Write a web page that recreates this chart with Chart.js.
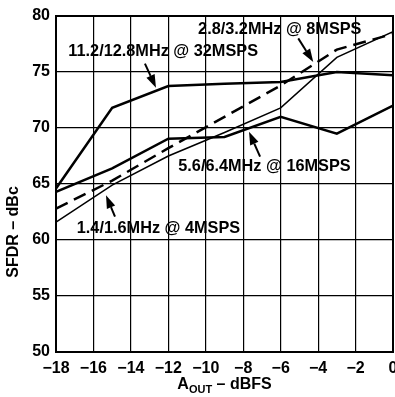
<!DOCTYPE html>
<html>
<head>
<meta charset="utf-8">
<script src="https://cdn.jsdelivr.net/npm/chart.js@4.4.0/dist/chart.umd.min.js"></script>
<style>
html,body{margin:0;padding:0;background:#fff;overflow:hidden;}
canvas{display:block;}
</style>
</head>
<body>
<canvas id="c" width="395" height="397"></canvas>
<script>
// ---- data ----
const aoutDbfs = [-18, -15, -12, -9, -6, -3, 0];
const sfdr32Msps = [64.6, 71.8, 73.75, 73.95, 74.1, 75.0, 74.7];   // 11.2/12.8MHz @ 32MSPS
const sfdr8Msps  = [62.8, 65.3, 68.2, 71.0, 73.8, 77.0, 78.4];     // 2.8/3.2MHz @ 8MSPS
const sfdr16Msps = [64.3, 66.4, 69.05, 69.2, 71.0, 69.5, 72.0];    // 5.6/6.4MHz @ 16MSPS
const sfdr4Msps  = [61.6, 64.9, 67.5, 69.6, 71.8, 76.3, 78.6];     // 1.4/1.6MHz @ 4MSPS
const seriesNames = ['11.2/12.8MHz @ 32MSPS', '2.8/3.2MHz @ 8MSPS', '5.6/6.4MHz @ 16MSPS', '1.4/1.6MHz @ 4MSPS'];
const xTicks = [-18, -16, -14, -12, -10, -8, -6, -4, -2, 0];
const yTicks = [50, 55, 60, 65, 70, 75, 80];

// label anchors (data units): [textX, textY, arrowFromX, arrowFromY, arrowToX, arrowToY]
const labelAnchors = [
  [-17.34, 76.8, -13.25, 75.75, -12.66, 73.6],
  [-10.41, 78.75, -5.06, 78.0, -4.26, 75.9],
  [-11.47, 66.55, -7.1, 67.44, -7.69, 69.67],
  [-16.89, 61.04, -14.85, 62.08, -15.33, 64.0]
];

const FONT = '"Liberation Sans", Arial, Helvetica, sans-serif';
const pts = arr => aoutDbfs.map((x, i) => ({x: x, y: arr[i]}));
const fmt = v => v < 0 ? '\u2212' + Math.abs(v) : String(v);

const annotPlugin = {
  id: 'annot',
  afterDatasetsDraw(chart) {
    const ctx = chart.ctx, xs = chart.scales.x, ys = chart.scales.y;
    const a = chart.chartArea;
    ctx.save();
    // frame
    ctx.strokeStyle = '#000';
    ctx.lineWidth = 2;
    ctx.strokeRect(a.left, a.top, a.right - a.left, a.bottom - a.top);
    // labels
    ctx.fillStyle = '#000';
    ctx.font = 'bold 16.3px ' + FONT;
    ctx.textAlign = 'left';
    ctx.textBaseline = 'middle';
    labelAnchors.forEach((an, i) => {
      ctx.fillText(seriesNames[i], xs.getPixelForValue(an[0]), ys.getPixelForValue(an[1]));
      const x1 = xs.getPixelForValue(an[2]), y1 = ys.getPixelForValue(an[3]);
      const x2 = xs.getPixelForValue(an[4]), y2 = ys.getPixelForValue(an[5]);
      const ang = Math.atan2(y2 - y1, x2 - x1);
      const hl = 13, hw = 4.5;
      const bx = x2 - hl * Math.cos(ang), by = y2 - hl * Math.sin(ang);
      ctx.lineWidth = 2;
      ctx.beginPath(); ctx.moveTo(x1, y1); ctx.lineTo(bx, by); ctx.stroke();
      ctx.beginPath();
      ctx.moveTo(x2, y2);
      ctx.lineTo(bx + hw * Math.sin(ang), by - hw * Math.cos(ang));
      ctx.lineTo(bx - hw * Math.sin(ang), by + hw * Math.cos(ang));
      ctx.closePath(); ctx.fill();
    });
    // axis titles
    const cx = (a.left + a.right) / 2;
    ctx.textBaseline = 'alphabetic';
    const mainFont = 'bold 16px ' + FONT, subFont = 'bold 11px ' + FONT;
    ctx.font = mainFont; const wA = ctx.measureText('A').width; const wRest = ctx.measureText(' \u2013 dBFS').width;
    ctx.font = subFont; const wSub = ctx.measureText('OUT').width;
    let sx = cx - (wA + wSub + wRest) / 2;
    const by = 389;
    ctx.font = mainFont; ctx.fillText('A', sx, by); sx += wA;
    ctx.font = subFont; ctx.fillText('OUT', sx, by + 4); sx += wSub;
    ctx.font = mainFont; ctx.fillText(' \u2013 dBFS', sx, by);
    ctx.save();
    ctx.translate(14, 232);
    ctx.rotate(-Math.PI / 2);
    ctx.textAlign = 'center';
    ctx.textBaseline = 'middle';
    ctx.font = 'bold 16px ' + FONT;
    ctx.fillText('SFDR \u2013 dBc', 0, 0);
    ctx.restore();
    ctx.restore();
  }
};

new Chart(document.getElementById('c'), {
  type: 'line',
  data: {
    datasets: [
      {label: seriesNames[0], data: pts(sfdr32Msps), borderColor: '#000', borderWidth: 2.5, pointRadius: 0, tension: 0},
      {label: seriesNames[1], data: pts(sfdr8Msps), borderColor: '#000', borderWidth: 2.5, borderDash: [13, 7], pointRadius: 0, tension: 0},
      {label: seriesNames[2], data: pts(sfdr16Msps), borderColor: '#000', borderWidth: 2.5, pointRadius: 0, tension: 0},
      {label: seriesNames[3], data: pts(sfdr4Msps), borderColor: '#000', borderWidth: 1.5, pointRadius: 0, tension: 0}
    ]
  },
  options: {
    responsive: false,
    animation: false,
    events: [],
    layout: {padding: {left: 0, right: 2, top: 16, bottom: 0}},
    plugins: {legend: {display: false}, tooltip: {enabled: false}},
    scales: {
      x: {
        type: 'linear', min: -18, max: 0,
        afterBuildTicks: s => { s.ticks = xTicks.map(v => ({value: v})); },
        afterFit: s => { s.height = 45; s.paddingLeft = 0; s.paddingRight = 0; },
        ticks: {color: '#000', font: {family: FONT, size: 16, weight: 'bold'}, padding: 7, maxRotation: 0, autoSkip: false, callback: fmt},
        grid: {color: '#000', lineWidth: 1.2, drawTicks: false},
        border: {color: '#000', width: 2}
      },
      y: {
        type: 'linear', min: 50, max: 80,
        afterBuildTicks: s => { s.ticks = yTicks.map(v => ({value: v})); },
        afterFit: s => { s.width = 56; s.paddingTop = 0; s.paddingBottom = 0; },
        ticks: {color: '#000', font: {family: FONT, size: 16, weight: 'bold'}, padding: 6, callback: fmt},
        grid: {color: '#000', lineWidth: 1.2, drawTicks: false},
        border: {color: '#000', width: 2}
      }
    }
  },
  plugins: [annotPlugin]
});
</script>
</body>
</html>
